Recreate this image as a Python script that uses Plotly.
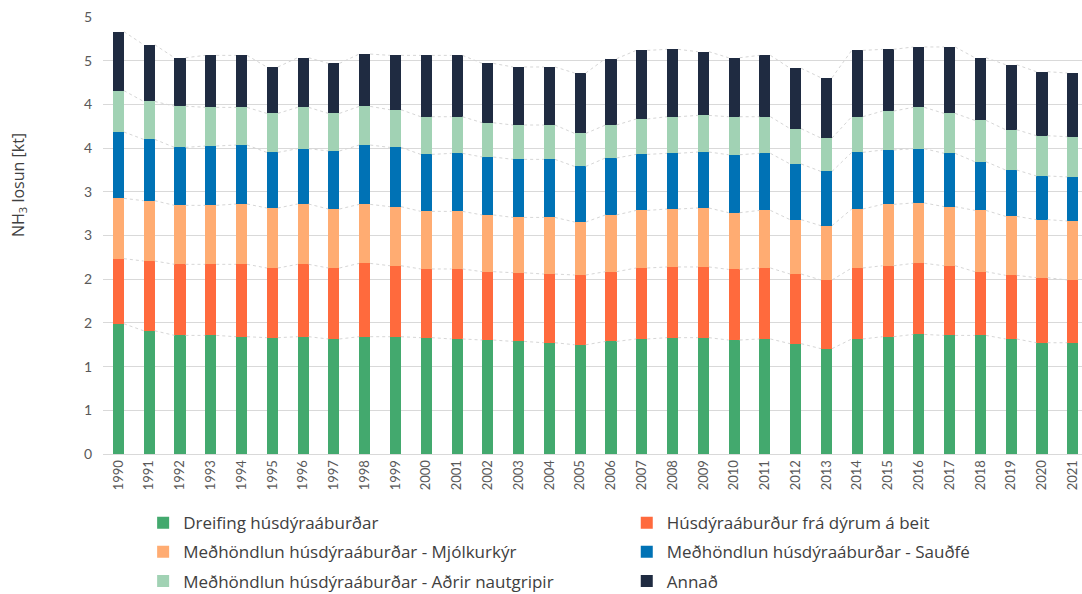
import plotly.graph_objects as go

years = list(range(1990, 2022))

dreifing = [1.49, 1.41, 1.357, 1.357, 1.342, 1.331, 1.342, 1.316, 1.342, 1.342,
            1.331, 1.316, 1.304, 1.288, 1.273, 1.25, 1.288, 1.316, 1.331, 1.331,
            1.304, 1.316, 1.262, 1.205, 1.316, 1.342, 1.368, 1.357, 1.357, 1.316,
            1.273, 1.273]
beit = [0.745, 0.798, 0.813, 0.813, 0.828, 0.797, 0.828, 0.812, 0.839, 0.812,
        0.786, 0.801, 0.782, 0.786, 0.786, 0.798, 0.798, 0.812, 0.809, 0.809,
        0.808, 0.812, 0.797, 0.786, 0.812, 0.812, 0.813, 0.797, 0.729, 0.728,
        0.744, 0.718]
mjolkurkyr = [0.69, 0.69, 0.675, 0.675, 0.69, 0.687, 0.69, 0.675, 0.675, 0.676,
              0.659, 0.659, 0.649, 0.633, 0.648, 0.606, 0.649, 0.659, 0.663, 0.675,
              0.649, 0.659, 0.622, 0.621, 0.675, 0.702, 0.691, 0.676, 0.701, 0.675,
              0.664, 0.675]
saudfe = [0.759, 0.702, 0.663, 0.679, 0.675, 0.636, 0.633, 0.664, 0.679, 0.678,
          0.652, 0.664, 0.663, 0.664, 0.664, 0.636, 0.652, 0.641, 0.637, 0.64,
          0.663, 0.653, 0.637, 0.621, 0.648, 0.622, 0.621, 0.61, 0.557, 0.53,
          0.5, 0.504]
adrir = [0.473, 0.434, 0.472, 0.442, 0.431, 0.446, 0.473, 0.43, 0.442, 0.431,
         0.431, 0.419, 0.392, 0.393, 0.393, 0.378, 0.377, 0.405, 0.419, 0.419,
         0.435, 0.419, 0.404, 0.382, 0.408, 0.446, 0.473, 0.457, 0.473, 0.461,
         0.461, 0.46]
annad = [0.675, 0.649, 0.554, 0.595, 0.595, 0.531, 0.568, 0.572, 0.599, 0.622,
         0.702, 0.702, 0.679, 0.664, 0.664, 0.691, 0.759, 0.785, 0.771, 0.729,
         0.675, 0.702, 0.691, 0.69, 0.759, 0.706, 0.691, 0.76, 0.717, 0.744,
         0.732, 0.729]

series_names = [
    "Dreifing húsdýraáburðar",
    "Húsdýraáburður frá dýrum á beit",
    "Meðhöndlun húsdýraáburðar - Mjólkurkýr",
    "Meðhöndlun húsdýraáburðar - Sauðfé",
    "Meðhöndlun húsdýraáburðar - Aðrir nautgripir",
    "Annað",
]
series_values = [dreifing, beit, mjolkurkyr, saudfe, adrir, annad]
colors = ["#43A96E", "#FF6A3D", "#FFAC72", "#0072B5", "#A1D2B4", "#1F2B41"]
legend_column = ["legend", "legend2", "legend", "legend2", "legend", "legend2"]

ytick_vals = [0, 0.5, 1, 1.5, 2, 2.5, 3, 3.5, 4, 4.5, 5]
ytick_text = ["0", "1", "1", "2", "2", "3", "3", "4", "4", "5", "5"]
y_title = "NH<sub>3</sub> losun [kt]"

BAR_W = 0.36
FONT = "Lato, 'Noto Sans', sans-serif"
LEG_FONT = "'Open Sans', Lato, sans-serif"

fig = go.Figure()

# series lines (dotted connectors between stacked segment tops)
cum = [0.0] * len(years)
for vals in series_values:
    cum = [c + v for c, v in zip(cum, vals)]
    xs, ys = [], []
    for i in range(len(years) - 1):
        xs += [years[i] + BAR_W / 2, years[i + 1] - BAR_W / 2, None]
        ys += [cum[i], cum[i + 1], None]
    fig.add_trace(go.Scatter(x=xs, y=ys, mode="lines",
                             line=dict(color="#D6D6D6", width=1, dash="dot"),
                             showlegend=False, hoverinfo="skip"))

for name, vals, col, leg in zip(series_names, series_values, colors, legend_column):
    fig.add_trace(go.Bar(x=years, y=vals, name=name, marker_color=col,
                         marker_line_width=0, width=BAR_W,
                         legend=leg, legendgroup=name))

leg_common = dict(orientation="v", yanchor="top", y=-0.117, xanchor="left",
                  traceorder="grouped", tracegroupgap=4, itemwidth=30,
                  bgcolor="rgba(0,0,0,0)",
                  font=dict(family=LEG_FONT, size=17, color="#404040"))

fig.update_layout(
    barmode="stack",
    width=1082, height=594,
    margin=dict(l=103, r=0, t=17, b=140, autoexpand=False),
    paper_bgcolor="white", plot_bgcolor="white",
    font=dict(family=FONT, size=14, color="#595959"),
    showlegend=True,
    legend=dict(x=0.041, **leg_common),
    legend2=dict(x=0.535, **leg_common),
    xaxis=dict(range=[1989.5, 2021.3], tickvals=years, automargin=False,
               ticktext=[str(y) for y in years], tickangle=-90,
               showgrid=False, showline=True, linecolor="#D9D9D9", linewidth=1,
               ticks="", tickfont=dict(size=13, color="#595959"), zeroline=False),
    yaxis=dict(range=[0, 5], tickvals=ytick_vals, ticktext=ytick_text,
               automargin=False, ticklabelstandoff=10,
               showgrid=True, gridcolor="#D9D9D9", gridwidth=1, zeroline=False,
               ticks="", tickfont=dict(size=14, color="#595959")),
    annotations=[dict(text=y_title, xref="paper", yref="paper",
                      x=-0.0858, y=0.6156, xanchor="center", yanchor="middle",
                      textangle=-90, showarrow=False,
                      font=dict(family=LEG_FONT, size=16, color="#404040"))],
)

fig.write_html("out.html", config={"displayModeBar": False},
               post_script="document.body.style.margin='0';")
